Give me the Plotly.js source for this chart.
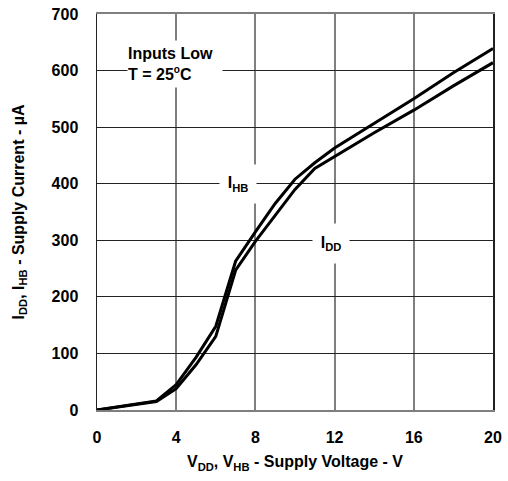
<!DOCTYPE html>
<html>
<head>
<meta charset="utf-8">
<script src="https://cdn.plot.ly/plotly-3.0.1.min.js"></script>
<style>html,body{margin:0;padding:0;background:#fff;}#chart{width:508px;height:481px;}</style>
</head>
<body>
<div id="chart"></div>
<script>
const voltage = [0, 1, 2, 3, 4, 5, 6, 7, 8, 9, 10, 11, 12, 14, 16, 18, 20];
const iHB = [0, 5, 10, 16, 45, 93, 148, 263, 315, 365, 408, 437, 463, 507, 550, 596, 639];
const iDD = [0, 5, 10, 15, 38, 80, 130, 247, 298, 345, 390, 427, 448, 490, 530, 573, 614];
const xTicks = [0, 4, 8, 12, 16, 20];
const yTicks = [0, 100, 200, 300, 400, 500, 600, 700];

const font = {family: '"Liberation Sans", Arial, sans-serif', size: 16, color: '#000'};
const lineStyle = {color: '#000', width: 3};

const traces = [
  {x: voltage, y: iHB, mode: 'lines', line: lineStyle, name: 'IHB', hoverinfo: 'skip'},
  {x: voltage, y: iDD, mode: 'lines', line: lineStyle, name: 'IDD', hoverinfo: 'skip'}
];

const layout = {
  width: 508, height: 481,
  margin: {l: 97, r: 15, t: 14, b: 71},
  paper_bgcolor: '#fff', plot_bgcolor: '#fff',
  showlegend: false,
  font: font,
  xaxis: {
    range: [0, 20], tickvals: xTicks, ticktext: xTicks.map(v => '<b>' + v + '</b>'),
    showgrid: true, gridcolor: '#7f7f7f', gridwidth: 2,
    zeroline: false, showline: true, linecolor: '#7f7f7f', linewidth: 2, mirror: true,
    ticks: '', ticklabelstandoff: 12, tickfont: font,
    title: {text: '<b>V<sub>DD</sub>, V<sub>HB</sub> - Supply Voltage - V</b>', font: font, standoff: 11}
  },
  yaxis: {
    range: [0, 700], tickvals: yTicks, ticktext: yTicks.map(v => '<b>' + v + '</b>'),
    showgrid: true, gridcolor: '#222', gridwidth: 1.2,
    zeroline: false, showline: true, linecolor: '#222', linewidth: 1.5, mirror: true,
    ticks: '', ticklabelstandoff: 14, tickfont: font,
    title: {text: '<b>I<sub>DD</sub>, I<sub>HB</sub> - Supply Current - µA</b>', font: font, standoff: 23}
  },
  annotations: [
    {x: 3.94, y: 612, xref: 'x', yref: 'y', showarrow: false,
     text: '<b>Inputs Low<br>T = 25<sup><span style="font-size:10px">o</span></sup>C</b>',
     align: 'left', bgcolor: '#fff', width: 94, height: 46, borderpad: 0, font: font},
    {x: 7.14, y: 400, xref: 'x', yref: 'y', showarrow: false,
     text: '<b>I<sub>HB</sub></b>', bgcolor: '#fff', width: 36, height: 38, borderpad: 0, font: font},
    {x: 11.81, y: 295, xref: 'x', yref: 'y', showarrow: false,
     text: '<b>I<sub>DD</sub></b>', bgcolor: '#fff', width: 36, height: 39, borderpad: 0, font: font}
  ]
};

Plotly.newPlot('chart', traces, layout, {displayModeBar: false, staticPlot: true});
</script>
</body>
</html>
